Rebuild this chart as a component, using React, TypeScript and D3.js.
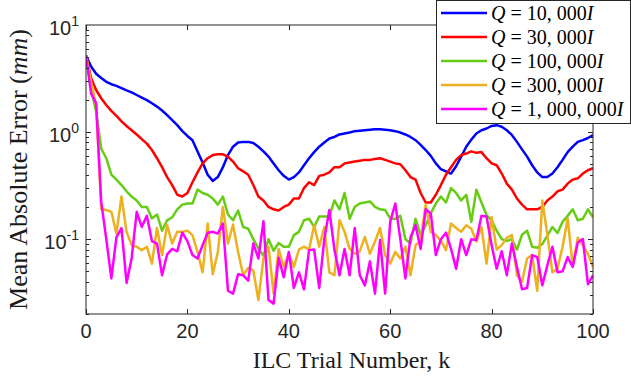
import React, { useEffect, useRef } from 'react';
import * as d3 from 'd3';

// ILC trial index k = 0..100
const trials = d3.range(0, 101);

const q10k = [5.2, 4.1, 3.5, 3.2, 2.95, 2.8, 2.7, 2.57, 2.45, 2.35, 2.22, 2.1, 1.99, 1.86, 1.73, 1.59, 1.44, 1.29, 1.16, 1.02, 0.92,
    0.84, 0.66, 0.52, 0.40, 0.35, 0.38, 0.47, 0.61, 0.73, 0.80, 0.81, 0.81, 0.79, 0.73, 0.66, 0.59, 0.51, 0.44, 0.39, 0.36,
    0.38, 0.42, 0.49, 0.57, 0.65, 0.73, 0.80, 0.87, 0.90, 0.95, 0.97, 0.99, 1.02, 1.03, 1.04, 1.05, 1.06, 1.06, 1.05, 1.04,
    1.02, 0.99, 0.95, 0.90, 0.84, 0.76, 0.68, 0.60, 0.51, 0.45, 0.43, 0.41, 0.48, 0.59, 0.73, 0.85, 0.97, 1.04, 1.08, 1.14,
    1.16, 1.12, 1.04, 0.94, 0.81, 0.69, 0.59, 0.49, 0.42, 0.38, 0.38, 0.41, 0.47, 0.55, 0.65, 0.73, 0.81, 0.84, 0.88, 0.94];

const q30k = [5.2, 3.2, 2.47, 2.07, 1.79, 1.58, 1.42, 1.26, 1.14, 1.04, 0.95, 0.86, 0.78, 0.68, 0.57, 0.47, 0.38, 0.32, 0.26, 0.25, 0.27,
    0.34, 0.42, 0.51, 0.57, 0.61, 0.62, 0.62, 0.59, 0.53, 0.46, 0.43, 0.40, 0.32, 0.25, 0.23, 0.20, 0.19, 0.185, 0.20, 0.21,
    0.24, 0.24, 0.30, 0.34, 0.32, 0.39, 0.40, 0.42, 0.47, 0.47, 0.51, 0.52, 0.53, 0.54, 0.55, 0.55, 0.56, 0.57, 0.55, 0.53,
    0.51, 0.50, 0.44, 0.38, 0.36, 0.27, 0.22, 0.22, 0.26, 0.32, 0.40, 0.47, 0.55, 0.61, 0.63, 0.66, 0.64, 0.65, 0.57, 0.51,
    0.49, 0.41, 0.33, 0.29, 0.24, 0.21, 0.19, 0.19, 0.19, 0.20, 0.23, 0.25, 0.28, 0.29, 0.33, 0.36, 0.37, 0.41, 0.44, 0.46];

const q100k = [5.2, 2.57, 1.55, 0.70, 0.57, 0.40, 0.36, 0.32, 0.28, 0.25, 0.23, 0.20, 0.20, 0.156, 0.17, 0.12, 0.15, 0.16, 0.19, 0.21, 0.215,
    0.215, 0.29, 0.27, 0.26, 0.24, 0.21, 0.25, 0.17, 0.15, 0.185, 0.13, 0.125, 0.10, 0.082, 0.07, 0.10, 0.078, 0.092, 0.085, 0.085,
    0.109, 0.117, 0.15, 0.155, 0.13, 0.163, 0.163, 0.163, 0.23, 0.19, 0.27, 0.155, 0.2, 0.215, 0.22, 0.225, 0.2, 0.19, 0.187, 0.156,
    0.155, 0.165, 0.10, 0.091, 0.155, 0.109, 0.135, 0.174, 0.215, 0.25, 0.22, 0.3, 0.27, 0.23, 0.26, 0.145, 0.29, 0.22, 0.168, 0.15,
    0.12, 0.10, 0.096, 0.10, 0.08, 0.11, 0.12, 0.085, 0.083, 0.09, 0.108, 0.13, 0.114, 0.145, 0.165, 0.19, 0.15, 0.155, 0.19, 0.16];

const q300k = [5.2, 2.95, 1.79, 0.19, 0.187, 0.18, 0.113, 0.25, 0.117, 0.088, 0.085, 0.079, 0.085, 0.059, 0.127, 0.071, 0.135, 0.091, 0.117, 0.117, 0.12,
    0.109, 0.076, 0.049, 0.14, 0.047, 0.076, 0.2, 0.091, 0.137, 0.076, 0.046, 0.054, 0.051, 0.027, 0.066, 0.085, 0.031, 0.081, 0.055, 0.073,
    0.055, 0.08, 0.085, 0.08, 0.135, 0.085, 0.13, 0.049, 0.046, 0.15, 0.117, 0.081, 0.073, 0.077, 0.105, 0.073, 0.095, 0.127, 0.071, 0.059,
    0.076, 0.066, 0.085, 0.046, 0.088, 0.097, 0.21, 0.117, 0.109, 0.097, 0.079, 0.14, 0.127, 0.117, 0.135, 0.125, 0.095, 0.13, 0.059, 0.16,
    0.08, 0.088, 0.103, 0.109, 0.046, 0.040, 0.066, 0.071, 0.033, 0.23, 0.109, 0.049, 0.053, 0.085, 0.156, 0.057, 0.103, 0.088, 0.073, 0.055];

const q1m = [5.2, 2.3, 1.85, 0.224, 0.1, 0.043, 0.104, 0.127, 0.039, 0.066, 0.18, 0.13, 0.165, 0.096, 0.091, 0.046, 0.072, 0.081, 0.077, 0.115, 0.096,
    0.071, 0.066, 0.088, 0.115, 0.117, 0.113, 0.14, 0.033, 0.031, 0.047, 0.046, 0.041, 0.091, 0.066, 0.147, 0.027, 0.025, 0.067, 0.044, 0.076,
    0.035, 0.049, 0.034, 0.079, 0.08, 0.035, 0.1, 0.187, 0.08, 0.046, 0.081, 0.046, 0.127, 0.046, 0.037, 0.062, 0.031, 0.098, 0.031, 0.145,
    0.215, 0.1, 0.043, 0.104, 0.135, 0.081, 0.19, 0.174, 0.071, 0.1, 0.115, 0.081, 0.053, 0.1, 0.071, 0.1, 0.098, 0.165, 0.163, 0.088,
    0.053, 0.077, 0.046, 0.091, 0.055, 0.034, 0.035, 0.071, 0.068, 0.037, 0.057, 0.085, 0.049, 0.05, 0.068, 0.055, 0.093, 0.1, 0.038, 0.046];

const seriesNames = ["10, 000", "30, 000", "100, 000", "300, 000", "1, 000, 000"];
const seriesValues = [q10k, q30k, q100k, q300k, q1m];
const seriesColors = ["#0000ff", "#ff0000", "#66cc14", "#edb120", "#ff00ff"];

const xTicks = [0, 20, 40, 60, 80, 100];
const yTickExponents = [-1, 0, 1];

export default function App() {
    const chartRef = useRef<SVGSVGElement>(null);

    useEffect(() => {
        if (!chartRef.current) return;
        const svg = d3.select(chartRef.current);
        svg.selectAll("*").remove();

        const left = 86, right = 593, top = 25, bottom = 314;
        const axisColor = "#262626";

        const x = d3.scaleLinear().domain([0, 100]).range([left, right]);
        const y = d3.scaleLog().domain([0.02, 10]).range([bottom, top]);

        svg.append("rect").attr("width", 631).attr("height", 383).attr("fill", "white");

        // data lines, clipped to axes
        svg.append("clipPath").attr("id", "plotclip")
            .append("rect").attr("x", left).attr("y", top)
            .attr("width", right - left).attr("height", bottom - top);

        const line = d3.line<number>()
            .x((_, i) => x(trials[i]))
            .y(d => y(d));

        const lines = svg.append("g").attr("clip-path", "url(#plotclip)");
        seriesValues.forEach((vals, i) => {
            lines.append("path")
                .attr("d", line(vals) as string)
                .attr("fill", "none")
                .attr("stroke", seriesColors[i])
                .attr("stroke-width", 2.5)
                .attr("stroke-linejoin", "round");
        });

        // axes box
        const ax = svg.append("g").attr("stroke", axisColor).attr("stroke-width", 1).attr("fill", "none");
        ax.append("rect").attr("x", left).attr("y", top)
            .attr("width", right - left).attr("height", bottom - top);

        xTicks.forEach(t => {
            const px = Math.round(x(t)) + 0.5;
            ax.append("line").attr("x1", px).attr("x2", px).attr("y1", bottom).attr("y2", bottom - 5);
            ax.append("line").attr("x1", px).attr("x2", px).attr("y1", top).attr("y2", top + 5);
        });

        // log ticks: majors at decades, minors at 2..9
        for (let e = -2; e <= 0; e++) {
            for (let m = 1; m <= 9; m++) {
                const v = m * Math.pow(10, e);
                if (v < 0.02 - 1e-9 || v > 10) continue;
                const py = Math.round(y(v)) + 0.5;
                const len = m === 1 ? 5 : 3;
                ax.append("line").attr("x1", left).attr("x2", left + len).attr("y1", py).attr("y2", py);
                ax.append("line").attr("x1", right).attr("x2", right - len).attr("y1", py).attr("y2", py);
            }
        }

        // tick labels
        const tickFont = "'Liberation Sans', Arial, Helvetica, sans-serif";
        xTicks.forEach(t => {
            svg.append("text")
                .attr("x", x(t)).attr("y", 338)
                .attr("text-anchor", "middle")
                .style("font-family", tickFont).style("font-size", "20px")
                .style("fill", axisColor)
                .text(t);
        });

        yTickExponents.forEach(e => {
            const t = svg.append("text")
                .attr("x", 79).attr("y", y(Math.pow(10, e)) + 10)
                .attr("text-anchor", "end")
                .style("font-family", tickFont).style("font-size", "20px")
                .style("fill", axisColor);
            t.append("tspan").text("10");
            t.append("tspan").attr("dy", -9).style("font-size", "14px").text(String(e));
        });

        // axis labels
        const serif = "'Liberation Serif', 'Times New Roman', serif";
        svg.append("text")
            .attr("x", (left + right) / 2 + 12).attr("y", 368)
            .attr("text-anchor", "middle")
            .style("font-family", serif).style("font-size", "24px").style("fill", "#1a1a1a")
            .text("ILC Trial Number, k");

        const yl = svg.append("text")
            .attr("transform", `translate(27,${(top + bottom) / 2}) rotate(-90)`)
            .attr("text-anchor", "middle")
            .style("font-family", serif).style("font-size", "26px").style("fill", "#1a1a1a");
        yl.append("tspan").text("Mean Absolute Error (");
        yl.append("tspan").style("font-style", "italic").text("mm");
        yl.append("tspan").text(")");

        // legend
        const lg = svg.append("g");
        lg.append("rect")
            .attr("x", 436.5).attr("y", 0.5).attr("width", 194).attr("height", 123)
            .attr("fill", "white").attr("stroke", axisColor);
        seriesNames.forEach((name, i) => {
            const cy = 13 + i * 24;
            lg.append("line")
                .attr("x1", 441).attr("x2", 487).attr("y1", cy).attr("y2", cy)
                .attr("stroke", seriesColors[i]).attr("stroke-width", 2.5);
            const t = lg.append("text")
                .attr("x", 491).attr("y", cy + 7)
                .style("font-family", serif).style("font-size", "20px").style("fill", "#000");
            t.append("tspan").style("font-style", "italic").text("Q");
            t.append("tspan").text(" = " + name);
            t.append("tspan").style("font-style", "italic").text("I");
        });
    }, []);

    return (
        <svg ref={chartRef} width={631} height={383}
            style={{ position: 'absolute', left: 0, top: 0, display: 'block' }}></svg>
    );
}
